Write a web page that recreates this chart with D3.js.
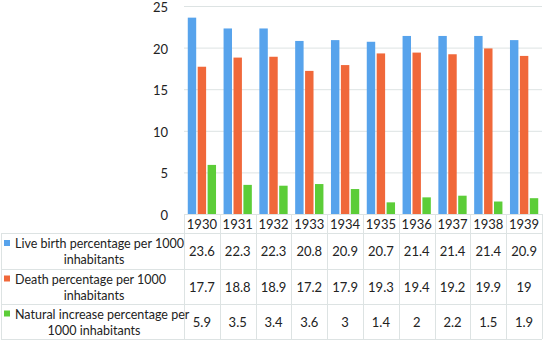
<!DOCTYPE html>
<html>
<head>
<meta charset="utf-8">
<script src="https://cdn.jsdelivr.net/npm/d3@7"></script>
<style>
  body { margin: 0; background: #fff; }
  svg { display: block; font-family: Lato, sans-serif; }
</style>
</head>
<body>
<svg id="chart" width="544" height="341"></svg>
<script>
var years = ["1930","1931","1932","1933","1934","1935","1936","1937","1938","1939"];
var birth = [23.6, 22.3, 22.3, 20.8, 20.9, 20.7, 21.4, 21.4, 21.4, 20.9];
var death = [17.7, 18.8, 18.9, 17.2, 17.9, 19.3, 19.4, 19.2, 19.9, 19];
var natural = [5.9, 3.5, 3.4, 3.6, 3, 1.4, 2, 2.2, 1.5, 1.9];
var seriesNames = [
    ["Live birth percentage per 1000", "inhabitants"],
    ["Death percentage per 1000", "inhabitants"],
    ["Natural increase percentage per", "1000 inhabitants"]
];
var yTicks = [0, 5, 10, 15, 20, 25];

var seriesVals = [birth, death, natural];
var colors = ["#57a3ec", "#f0683a", "#5ccd38"];
var gridCol = "#dde3e3";
var fs = 12.5;

var svg = d3.select("#chart");
var left = 184, right = 542, y0 = 214;
var rows = [214, 233, 269, 304, 339];

var xScale = d3.scaleBand().domain(years).range([left, right]).padding(0);
var inner = d3.scaleBand().domain([0, 1, 2])
    .range([0, xScale.bandwidth()])
    .paddingInner(0.15).paddingOuter(0.38);
var yScale = d3.scaleLinear().domain([0, 25]).range([y0, 6]);

// gridlines
svg.append("g").selectAll("line")
    .data(yTicks.filter(t => t > 0))
    .join("line")
    .attr("x1", left).attr("x2", right)
    .attr("y1", d => yScale(d) + 0.5).attr("y2", d => yScale(d) + 0.5)
    .attr("stroke", gridCol).attr("stroke-width", 1);

// y axis labels
var yAxis = d3.axisLeft(yScale).tickValues(yTicks).tickSize(0).tickPadding(16);
svg.append("g")
    .attr("transform", "translate(" + left + ",0)")
    .call(yAxis)
    .call(g => g.select(".domain").remove())
    .selectAll("text")
    .attr("dy", "0.42em")
    .attr("font-size", 13)
    .attr("font-family", "Lato, sans-serif")
    .attr("fill", "#222");

// bars
seriesVals.forEach(function (vals, s) {
    svg.append("g").selectAll("rect")
        .data(vals)
        .join("rect")
        .attr("x", (d, i) => xScale(years[i]) + inner(s))
        .attr("width", inner.bandwidth())
        .attr("y", d => yScale(d))
        .attr("height", d => y0 - yScale(d))
        .attr("fill", colors[s]);
});

// table lines
var tbl = svg.append("g").attr("stroke", gridCol).attr("stroke-width", 1);
tbl.append("line").attr("x1", left).attr("x2", right).attr("y1", y0 + 0.5).attr("y2", y0 + 0.5);
rows.slice(1).forEach(function (r) {
    tbl.append("line").attr("x1", 1).attr("x2", right).attr("y1", r + 0.5).attr("y2", r + 0.5);
});
tbl.append("line").attr("x1", 1.5).attr("x2", 1.5).attr("y1", rows[1]).attr("y2", rows[4]);
years.forEach(function (y) {
    var x = Math.round(xScale(y)) + 0.5;
    tbl.append("line").attr("x1", x).attr("x2", x).attr("y1", y0).attr("y2", rows[4]);
});
tbl.append("line").attr("x1", right + 0.5).attr("x2", right + 0.5).attr("y1", y0).attr("y2", rows[4]);

// year header
svg.append("g").selectAll("text")
    .data(years)
    .join("text")
    .attr("x", d => xScale(d) + xScale.bandwidth() / 2)
    .attr("y", (rows[0] + rows[1]) / 2 + 5)
    .attr("text-anchor", "middle")
    .attr("font-size", 13)
    .attr("fill", "#222")
    .text(d => d);

// rows with legend + values
seriesVals.forEach(function (vals, s) {
    var top = rows[s + 1], bot = rows[s + 2], mid = (top + bot) / 2;
    svg.append("rect")
        .attr("x", 4).attr("y", mid - 11)
        .attr("width", 6).attr("height", 6)
        .attr("fill", colors[s]);
    svg.append("text")
        .attr("x", 15).attr("y", mid - 3)
        .attr("font-size", fs).attr("fill", "#222")
        .text(seriesNames[s][0]);
    svg.append("text")
        .attr("x", 94).attr("y", mid + 13)
        .attr("text-anchor", "middle")
        .attr("font-size", fs).attr("fill", "#222")
        .text(seriesNames[s][1]);
    svg.append("g").selectAll("text")
        .data(vals)
        .join("text")
        .attr("x", (d, i) => xScale(years[i]) + xScale.bandwidth() / 2)
        .attr("y", mid + 5)
        .attr("text-anchor", "middle")
        .attr("font-size", 13)
        .attr("fill", "#222")
        .text(d => d);
});
</script>
</body>
</html>
